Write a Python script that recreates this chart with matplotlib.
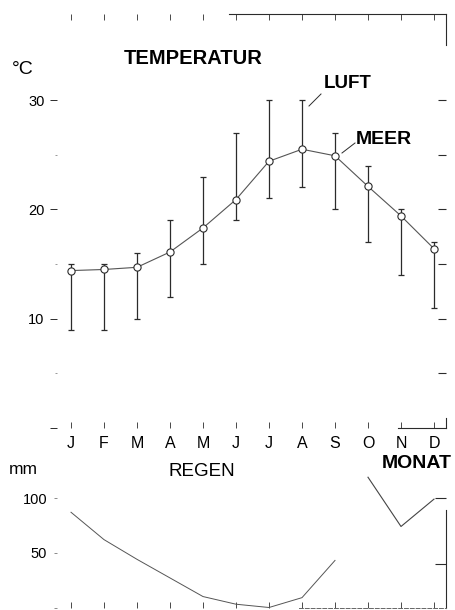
import matplotlib.pyplot as plt
from matplotlib.lines import Line2D

# climate chart: temperature (air range + sea) on top, rain below

# data
months = [1, 2, 3, 4, 5, 6, 7, 8, 9, 10, 11, 12]
month_labels = ["J", "F", "M", "A", "M", "J", "J", "A", "S", "O", "N", "D"]

# air temperature, lowest and highest (error bars)
air_min = [9, 9, 10, 12, 15, 19, 21, 22, 20, 17, 14, 11]
air_max = [15, 15, 16, 19, 23, 27, 30, 30, 27, 24, 20, 17]

# sea temperature (open circles)
sea = [14.4, 14.5, 14.7, 16.1, 18.3, 20.9, 24.4, 25.5, 24.9, 22.1, 19.4, 16.4]

# rain in mm (line has a break between S and O)
rain_a_months = [1, 2, 3, 4, 5, 6, 7, 8, 9]
rain_a = [87, 62, 44, 27, 10, 3, 0, 9, 43]
rain_b_months = [10, 11, 12]
rain_b = [119, 74, 99]

temp_ticks = [10, 20, 30]
rain_ticks = [50, 100]

W, H = 455, 610


def fx(x):
    # pixel -> figure fraction
    return x / W


def fy(y):
    return 1 - y / H


plt.rcParams["font.family"] = ["Liberation Sans", "DejaVu Sans"]

fig = plt.figure(figsize=(4.55, 6.10), dpi=100)

xmin = 1 - 14 / 33
xmax = 12 + 12 / 33
ink = "#2b2b2b"

# ---- temperature panel ----
ax1 = fig.add_axes([fx(57), fy(428), fx(446) - fx(57), fy(14) - fy(428)])
ax1.set_xlim(xmin, xmax)
ax1.set_ylim(0, 37.87)

mid = [(a + b) / 2 for a, b in zip(air_min, air_max)]
half = [(b - a) / 2 for a, b in zip(air_min, air_max)]
ax1.errorbar(months, mid, yerr=half, fmt="none", ecolor=ink,
             elinewidth=0.9, capsize=2.3, capthick=0.9)
ax1.plot(months, sea, "-", color="#555555", lw=0.8)
ax1.plot(months, sea, "o", mfc="white", mec=ink, ms=5.2, mew=0.8)

ax1.set_xticks(months)
ax1.set_xticklabels(month_labels, fontsize=11.5)
ax1.tick_params(axis="x", direction="in", length=4, width=0.6,
                top=True, bottom=True, pad=6, colors=ink, labelcolor="black")
ax1.set_yticks([0] + temp_ticks)
ax1.set_yticklabels([""] + [str(t) for t in temp_ticks], fontsize=10.5)
ax1.set_yticks([5, 15, 25], minor=True)
ax1.tick_params(axis="y", which="major", direction="out", length=5,
                width=0.7, pad=4, colors=ink, labelcolor="black")
ax1.tick_params(axis="y", which="minor", direction="out", length=1.5,
                width=0.6, colors="#888888")

ax1.spines["left"].set_visible(False)
ax1.spines["top"].set_bounds(5.8, xmax)
ax1.spines["bottom"].set_bounds(10.9, xmax)
ax1.spines["right"].set_bounds(35, 37.87)
for s in ax1.spines.values():
    s.set_linewidth(0.8)
    s.set_color(ink)
# little piece of frame at bottom right corner
ax1.plot([1, 1], [0, 0.025], transform=ax1.transAxes, color=ink, lw=0.8,
         clip_on=False)

# right side ticks (inward)
ax1r = ax1.twinx()
ax1r.set_ylim(ax1.get_ylim())
ax1r.set_yticks([5, 10, 15, 20, 25, 30])
ax1r.tick_params(axis="y", direction="in", length=6, width=0.8,
                 labelright=False, colors=ink)
for s in ax1r.spines.values():
    s.set_visible(False)

# ---- rain panel ----
ax2 = fig.add_axes([fx(57), fy(607.5), fx(446) - fx(57), fy(470) - fy(607.5)])
ax2.set_xlim(xmin, xmax)
ax2.set_ylim(0, 125.6)

ax2.plot(rain_a_months, rain_a, "-", color="#555555", lw=0.7)
ax2.plot(rain_b_months, rain_b, "-", color="#444444", lw=0.8)

ax2.set_xticks(months)
ax2.tick_params(axis="x", direction="in", length=4, width=0.6,
                labelbottom=False, colors=ink)
ax2.set_yticks([0] + rain_ticks)
ax2.set_yticklabels([""] + [str(t) for t in rain_ticks], fontsize=10.5)
ax2.tick_params(axis="y", direction="out", length=2, width=0.6, pad=5,
                colors="#777777", labelcolor="black")

ax2.spines["left"].set_visible(False)
ax2.spines["top"].set_visible(False)
ax2.spines["bottom"].set_bounds(7.9, xmax)
ax2.spines["bottom"].set_linestyle((0, (4, 2)))
ax2.spines["bottom"].set_color("#666666")
ax2.spines["bottom"].set_linewidth(0.7)
ax2.spines["right"].set_bounds(0, 89)
ax2.spines["right"].set_color(ink)
ax2.spines["right"].set_linewidth(0.8)

ax2r = ax2.twinx()
ax2r.set_ylim(ax2.get_ylim())
ax2r.set_yticks([40, 100])
ax2r.tick_params(axis="y", direction="in", length=8, width=0.8,
                 labelright=False, colors=ink)
for s in ax2r.spines.values():
    s.set_visible(False)

# ---- texts ----
fig.text(fx(12), fy(74), "°C", fontsize=14, va="baseline")
fig.text(fx(124), fy(64.5), "TEMPERATUR", fontsize=14.5, fontweight="bold",
         va="baseline")
fig.text(fx(324), fy(88.5), "LUFT", fontsize=13.5, fontweight="bold",
         va="baseline")
fig.text(fx(356), fy(143.5), "MEER", fontsize=14, fontweight="bold",
         va="baseline")
fig.text(fx(9), fy(474), "mm", fontsize=12.5, va="baseline")
fig.text(fx(169), fy(476), "REGEN", fontsize=13.5, va="baseline")
# the scan cuts MONAT at the edge; keep it just inside the picture
fig.text(fx(382), fy(467.5), "MONAT", fontsize=14, fontweight="bold",
         va="baseline")

# pointer lines for LUFT and MEER
fig.add_artist(Line2D([fx(309), fx(321)], [fy(106), fy(94)], color=ink, lw=0.7))
fig.add_artist(Line2D([fx(342), fx(355)], [fy(153), fy(143)], color=ink, lw=0.7))

plt.savefig("out.png", dpi=100)
